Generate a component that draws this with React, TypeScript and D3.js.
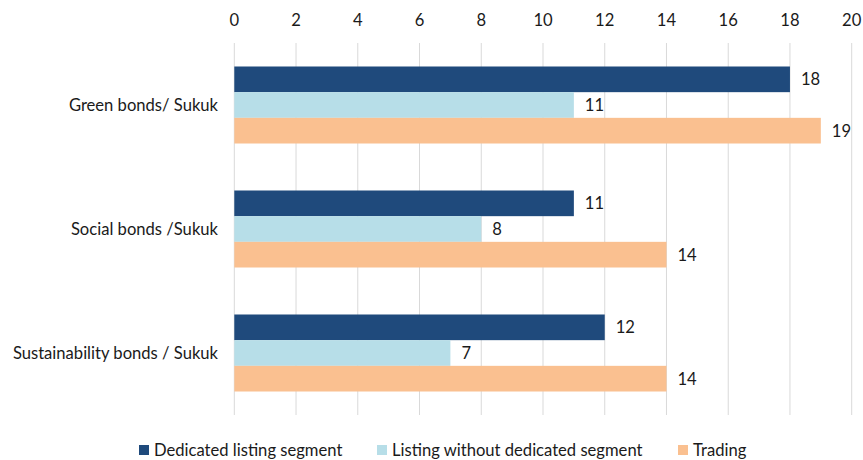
import React, { useEffect, useRef } from "react";
import * as d3 from "d3";

const categories = ["Green bonds/ Sukuk", "Social bonds /Sukuk", "Sustainability bonds / Sukuk"];
const seriesNames = ["Dedicated listing segment", "Listing without dedicated segment", "Trading"];
const dedicated = [18, 11, 12];
const listingWithout = [11, 8, 7];
const trading = [19, 14, 14];
const xTicks = [0, 2, 4, 6, 8, 10, 12, 14, 16, 18, 20];
const colors = ["#1F4A7C", "#B7DEE8", "#FAC090"];

const W = 863;
const H = 460;
const FONT = "Lato, 'Open Sans', sans-serif";
const FS = 16.6;

export default function App() {
  const ref = useRef<SVGSVGElement>(null);
  useEffect(() => {
    const svg = d3.select(ref.current);
    svg.selectAll("*").remove();
    const series = [dedicated, listingWithout, trading];
    const x = d3.scaleLinear().domain([0, 20]).range([234.3, 851.7]);
    const y0 = d3.scaleBand<string>().domain(categories).range([43, 415]).paddingInner(0.379).paddingOuter(0.1895);
    const y1 = d3.scaleBand<string>().domain(seriesNames).range([0, y0.bandwidth()]);

    // gridlines
    svg.append("g").selectAll("line").data(xTicks).join("line")
      .attr("x1", d => x(d)).attr("x2", d => x(d))
      .attr("y1", 43).attr("y2", 415)
      .attr("stroke", "#D9D9D9").attr("stroke-width", 1);

    // tick labels
    svg.append("g").selectAll("text").data(xTicks).join("text")
      .attr("x", d => x(d)).attr("y", 20)
      .attr("text-anchor", "middle").attr("dominant-baseline", "central")
      .attr("font-family", FONT).attr("font-size", FS).attr("fill", "#1a1a1a")
      .text(d => String(d));

    // category labels
    svg.append("g").selectAll("text").data(categories).join("text")
      .attr("x", 218).attr("y", d => (y0(d) as number) + y0.bandwidth() / 2)
      .attr("text-anchor", "end").attr("dominant-baseline", "central")
      .attr("font-family", FONT).attr("font-size", FS).attr("fill", "#1a1a1a")
      .text(d => d);

    // bars
    categories.forEach((c, ci) => {
      const g = svg.append("g").attr("transform", `translate(0,${y0(c)})`);
      seriesNames.forEach((s, si) => {
        const v = series[si][ci];
        g.append("rect")
          .attr("x", x(0)).attr("y", y1(s) as number)
          .attr("width", x(v) - x(0)).attr("height", y1.bandwidth())
          .attr("fill", colors[si]);
        g.append("text")
          .attr("x", x(v) + 11).attr("y", (y1(s) as number) + y1.bandwidth() / 2)
          .attr("dominant-baseline", "central")
          .attr("font-family", FONT).attr("font-size", FS).attr("fill", "#1a1a1a")
          .text(String(v));
      });
    });

    // legend
    const legendX = [139, 377, 678];
    const lg = svg.append("g");
    seriesNames.forEach((s, i) => {
      lg.append("rect").attr("x", legendX[i]).attr("y", 445).attr("width", 10).attr("height", 10).attr("fill", colors[i]);
      lg.append("text").attr("x", legendX[i] + 15).attr("y", 450)
        .attr("dominant-baseline", "central")
        .attr("font-family", FONT).attr("font-size", FS).attr("fill", "#1a1a1a")
        .text(s);
    });
  }, []);
  return (
    <svg ref={ref} width={W} height={H} style={{ position: "absolute", left: 0, top: 0, background: "#fff" }} />
  );
}
